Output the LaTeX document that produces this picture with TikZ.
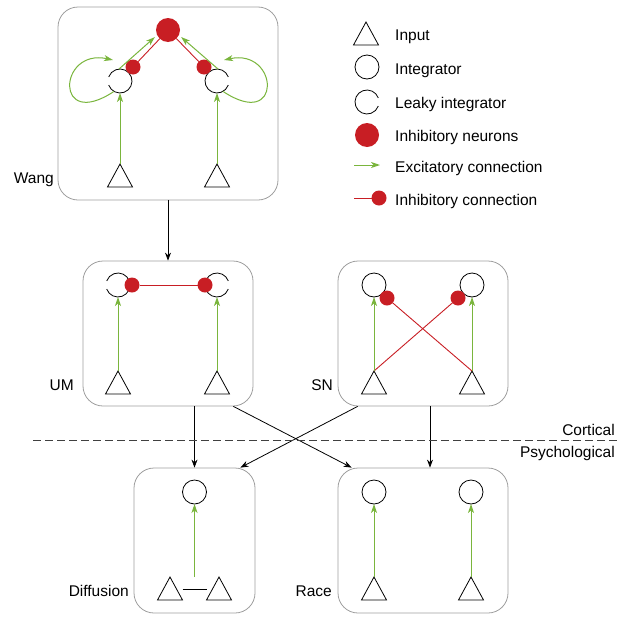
\documentclass[tikz,border=0pt]{standalone}
\usepackage{fontspec}
\setmainfont{Liberation Sans}
\usetikzlibrary{arrows.meta}

\definecolor{excgreen}{RGB}{122,181,61}
\definecolor{inhred}{RGB}{200,30,36}
\definecolor{boxgray}{RGB}{158,158,158}

\begin{document}
\begin{tikzpicture}[x=1pt,y=1pt,>={Stealth[length=8pt,width=6pt]},
    box/.style={draw=boxgray,line width=0.8pt,rounded corners=20pt,inner sep=0pt},
    integ/.style={circle,draw,line width=0.8pt,minimum size=24pt,inner sep=0pt,outer sep=0pt},
    leaky/.style={circle,minimum size=24pt,inner sep=0pt,outer sep=0pt},
    inhib/.style={circle,fill=inhred,minimum size=24pt,inner sep=0pt,outer sep=0pt},
    inhdot/.style={circle,fill=inhred,minimum size=15pt,inner sep=0pt,outer sep=0pt},
    exc/.style={excgreen,line width=1pt,-{Stealth[length=9pt,width=6pt,inset=2.5pt]}},
    inh/.style={inhred,line width=0.9pt},
    feed/.style={line width=0.8pt,->},
    lbl/.style={font=\fontsize{15.5}{18}\selectfont,inner sep=0pt,anchor=base east},
    legtxt/.style={lbl,anchor=base west},
    inp/.pic={\draw[line width=0.8pt] (0,0) -- (-12.5,-23) -- (12.5,-23) -- cycle;}]
    \useasboundingbox (0,0) rectangle (631,-624);

    % boxes
    \node [box,minimum width=220pt,minimum height=193pt] (wang) at (168,-103.5) {};
    \node [box,minimum width=170pt,minimum height=145pt] (um)   at (168,-333.5) {};
    \node [box,minimum width=170pt,minimum height=145pt] (sn)   at (423,-333.5) {};
    \node [box,minimum width=121pt,minimum height=145pt] (diff) at (194.5,-540.5) {};
    \node [box,minimum width=170pt,minimum height=145pt] (race) at (423,-540.5) {};

    \node [lbl] (wangLbl) at (54,-183.5) {Wang};
    \node [lbl] (umLbl)   at (74,-390)   {UM};
    \node [lbl] (snLbl)   at (333,-390)  {SN};
    \node [lbl] (diffLbl) at (129,-596)  {Diffusion};
    \node [lbl] (raceLbl) at (332,-596)  {Race};

    % Wang
    \node [inhib] (wInh) at (168,-30) {};
    \node [leaky] (wL) at (120,-81) {};
    \node [leaky] (wR) at (217,-81) {};
    \draw [line width=0.8pt] (wL.200) arc [start angle=200,end angle=520,radius=12];
    \draw [line width=0.8pt] (wR.20) arc [start angle=20,end angle=340,radius=12];
    \node [inhdot] (wLd) at (133,-67) {};
    \node [inhdot] (wRd) at (204,-67) {};
    \coordinate (wLt) at (120,-164);
    \coordinate (wRt) at (217,-164);
    \pic at (wLt) {inp};
    \pic at (wRt) {inp};
    \draw [exc] (wLt) -- (wL.south);
    \draw [exc] (wRt) -- (wR.south);
    \draw [inh] (wLd) -- (wInh);
    \draw [inh] (wRd) -- (wInh);
    \draw [exc,shorten >=3pt] (wL.95) -- (wInh.205);
    \draw [exc,shorten >=3pt] (wR.85) -- (wInh.335);
    \draw [exc] (wL.240) .. controls +(-60,-40) and +(-55,12) .. ([shift={(-7,21)}]wL.center);
    \draw [exc] (wR.300) .. controls +(60,-40) and +(55,12) .. ([shift={(7,21)}]wR.center);

    % UM
    \node [leaky] (umL) at (118,-285) {};
    \node [leaky] (umR) at (217,-285) {};
    \draw [line width=0.8pt] (umL.200) arc [start angle=200,end angle=520,radius=12];
    \draw [line width=0.8pt] (umR.20) arc [start angle=20,end angle=340,radius=12];
    \node [inhdot] (umLd) at (132,-285) {};
    \node [inhdot] (umRd) at (205,-285) {};
    \draw [inh] (umLd) -- (umRd);
    \coordinate (umLt) at (118,-371);
    \coordinate (umRt) at (217,-371);
    \pic at (umLt) {inp};
    \pic at (umRt) {inp};
    \draw [exc] (umLt) -- (umL.south);
    \draw [exc] (umRt) -- (umR.south);

    % SN
    \node [integ] (snL) at (374,-285) {};
    \node [integ] (snR) at (472,-285) {};
    \node [inhdot] (snLd) at (387,-298) {};
    \node [inhdot] (snRd) at (458,-298) {};
    \coordinate (snLt) at (374,-371);
    \coordinate (snRt) at (472,-371);
    \pic at (snLt) {inp};
    \pic at (snRt) {inp};
    \draw [inh] (snLt) -- (snRd);
    \draw [inh] (snRt) -- (snLd);
    \draw [exc] (snLt) -- (snL.south);
    \draw [exc] (snRt) -- (snR.south);

    % Diffusion
    \node [integ] (dfC) at (194.5,-492) {};
    \coordinate (dfLt) at (170,-577);
    \coordinate (dfRt) at (219,-577);
    \pic at (dfLt) {inp};
    \pic at (dfRt) {inp};
    \draw [line width=0.8pt] ([shift={(12.5,-12)}]dfLt) -- ([shift={(-12.5,-12)}]dfRt);
    \draw [exc] (dfC.south |- dfLt) -- (dfC.south);

    % Race
    \node [integ] (rcL) at (374,-492) {};
    \node [integ] (rcR) at (471,-492) {};
    \coordinate (rcLt) at (374,-577);
    \coordinate (rcRt) at (471,-577);
    \pic at (rcLt) {inp};
    \pic at (rcRt) {inp};
    \draw [exc] (rcLt) -- (rcL.south);
    \draw [exc] (rcRt) -- (rcR.south);

    % between the boxes
    \draw [feed] (wang.south) -- (um.north);
    \draw [feed] (diff.north |- um.south) -- (diff.north);
    \draw [feed] ([xshift=-20pt]um.south east) -- ([xshift=14pt]race.north west);
    \draw [feed] ([xshift=20pt]sn.south west) -- ([xshift=-15pt]diff.north east);
    \draw [feed] ([xshift=7pt]sn.south) -- ([xshift=7pt]race.north);

    \coordinate (cutL) at (33,-440);
    \coordinate (cutR) at (617,-440);
    \draw [line width=0.8pt,black!75,dash pattern=on 8pt off 4pt] (cutL) -- (cutR);
    \node [lbl] (cortLbl) at (615,-435) {Cortical};
    \node [lbl] (psyLbl)  at (615,-457) {Psychological};

    % legend
    \coordinate (lgT) at (366,-22);
    \pic at (lgT) {inp};
    \node [integ] (lgInt) at (367,-67) {};
    \node [leaky] (lgLk) at (367,-102) {};
    \draw [line width=0.8pt] (lgLk.20) arc [start angle=20,end angle=340,radius=12];
    \node [inhib] (lgInh) at (367,-135) {};
    \coordinate (lgE1) at (354,-165);
    \coordinate (lgE2) at (380,-165);
    \draw [exc] (lgE1) -- (lgE2);
    \coordinate (lgI1) at (354,-198);
    \node [inhdot] (lgId) at (379,-198) {};
    \draw [inh] (lgI1) -- (lgId);

    \node [legtxt] (lgTxt1) at (395,-40)  {Input};
    \node [legtxt] (lgTxt2) at (395,-74)  {Integrator};
    \node [legtxt] (lgTxt3) at (395,-108) {Leaky integrator};
    \node [legtxt] (lgTxt4) at (395,-141) {Inhibitory neurons};
    \node [legtxt] (lgTxt5) at (395,-172) {Excitatory connection};
    \node [legtxt] (lgTxt6) at (395,-205) {Inhibitory connection};
\end{tikzpicture}
\end{document}
